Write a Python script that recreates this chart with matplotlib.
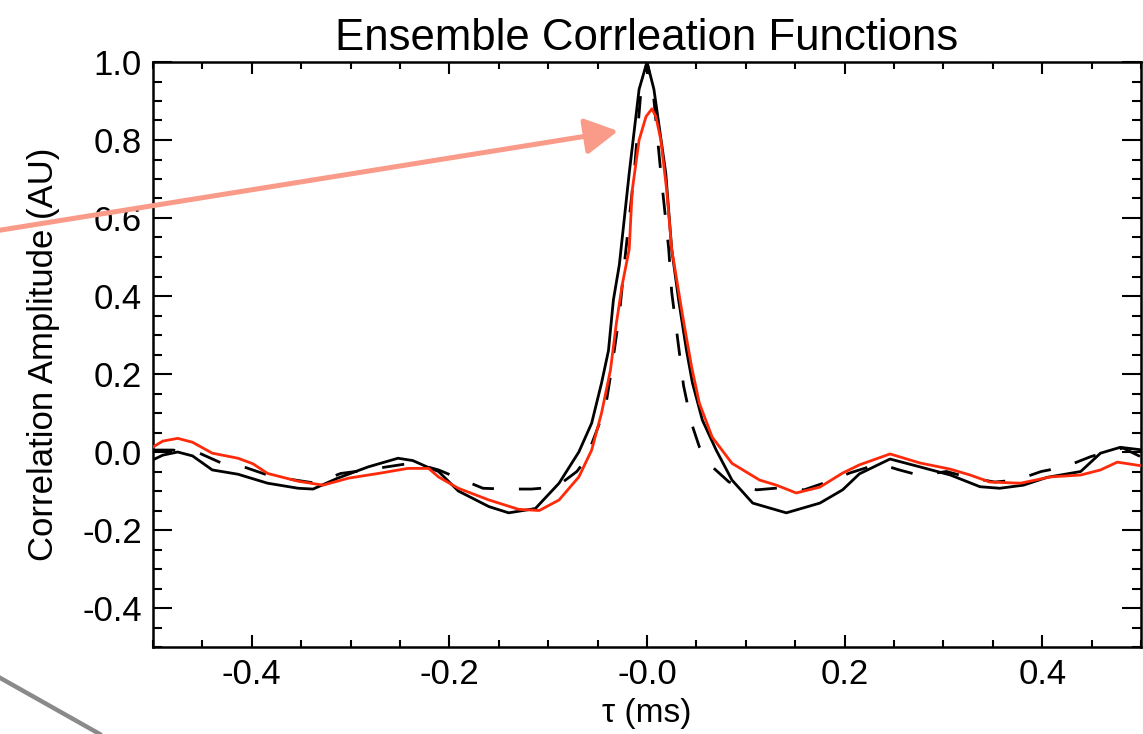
import numpy as np
import matplotlib
matplotlib.use("Agg")
import matplotlib.pyplot as plt
from matplotlib.ticker import MultipleLocator

plt.rcParams["font.family"] = ["Liberation Sans", "DejaVu Sans"]

# ----------------------------------------------------------------------
# curves (tau in ms, amplitude in AU)
# ----------------------------------------------------------------------
tau_solid = [-0.500, -0.490, -0.475, -0.460, -0.440, -0.414, -0.384, -0.353, -0.338,
             -0.313, -0.282, -0.252, -0.237, -0.221, -0.211, -0.191, -0.160, -0.140,
             -0.113, -0.089, -0.069, -0.056, -0.046, -0.039, -0.034, -0.028, -0.018,
             -0.008, 0.000, 0.007, 0.019, 0.025, 0.032, 0.040, 0.046, 0.056, 0.070,
             0.086, 0.107, 0.141, 0.175, 0.198, 0.215, 0.246, 0.276, 0.307, 0.337,
             0.357, 0.381, 0.405, 0.439, 0.459, 0.479, 0.502]
amp_solid = [-0.020, -0.008, 0.000, -0.010, -0.046, -0.057, -0.080, -0.093, -0.095,
             -0.067, -0.038, -0.016, -0.022, -0.040, -0.050, -0.100, -0.140, -0.156,
             -0.145, -0.080, 0.000, 0.074, 0.177, 0.260, 0.390, 0.480, 0.715,
             0.930, 1.000, 0.930, 0.715, 0.520, 0.390, 0.260, 0.177, 0.082, 0.005,
             -0.072, -0.131, -0.156, -0.131, -0.097, -0.056, -0.018, -0.038, -0.059, -0.089,
             -0.093, -0.085, -0.065, -0.050, -0.003, 0.012, 0.005]

tau_dash = [-0.500, -0.480, -0.453, -0.431, -0.406, -0.383, -0.356, -0.335, -0.310,
            -0.286, -0.263, -0.237, -0.211, -0.191, -0.166, -0.143, -0.117, -0.092,
            -0.071, -0.062, -0.042, -0.036, -0.028, -0.023, -0.013, -0.006, 0.000,
            0.006, 0.014, 0.022, 0.025, 0.031, 0.037, 0.045, 0.053, 0.066, 0.083,
            0.111, 0.134, 0.159, 0.182, 0.205, 0.215, 0.235, 0.254, 0.276, 0.303,
            0.325, 0.352, 0.374, 0.399, 0.423, 0.449, 0.472, 0.482, 0.502]
amp_dash = [0.005, 0.005, -0.003, -0.028, -0.040, -0.060, -0.072, -0.080, -0.055,
            -0.047, -0.038, -0.028, -0.046, -0.067, -0.093, -0.095, -0.095, -0.090,
            -0.050, -0.020, 0.115, 0.210, 0.350, 0.480, 0.715, 0.930, 1.000,
            0.930, 0.715, 0.520, 0.410, 0.290, 0.170, 0.074, 0.013, -0.038, -0.077,
            -0.097, -0.092, -0.097, -0.077, -0.054, -0.046, -0.030, -0.045, -0.060, -0.050,
            -0.065, -0.077, -0.072, -0.050, -0.038, -0.012, 0.005, 0.010, -0.015]

tau_red = [-0.500, -0.490, -0.475, -0.460, -0.440, -0.414, -0.399, -0.384, -0.353,
           -0.328, -0.302, -0.272, -0.242, -0.221, -0.211, -0.191, -0.160, -0.130,
           -0.109, -0.089, -0.069, -0.056, -0.046, -0.037, -0.031, -0.025, -0.018,
           -0.015, -0.008, -0.001, 0.005, 0.009, 0.014, 0.020, 0.025, 0.036, 0.045,
           0.053, 0.066, 0.086, 0.114, 0.131, 0.151, 0.175, 0.198, 0.215, 0.246,
           0.276, 0.307, 0.327, 0.347, 0.378, 0.408, 0.439, 0.459, 0.476, 0.502]
amp_red = [0.013, 0.028, 0.035, 0.025, -0.003, -0.016, -0.030, -0.055, -0.075,
           -0.085, -0.067, -0.055, -0.042, -0.042, -0.064, -0.093, -0.123, -0.147,
           -0.150, -0.123, -0.064, 0.005, 0.100, 0.210, 0.330, 0.430, 0.520,
           0.670, 0.800, 0.860, 0.880, 0.860, 0.800, 0.670, 0.520, 0.350, 0.220,
           0.125, 0.038, -0.029, -0.072, -0.085, -0.105, -0.090, -0.054, -0.033, -0.005,
           -0.028, -0.044, -0.059, -0.077, -0.080, -0.064, -0.059, -0.046, -0.026, -0.036]

x_ticks = [-0.4, -0.2, 0.0, 0.2, 0.4]
x_labels = ["-0.4", "-0.2", "-0.0", "0.2", "0.4"]
y_ticks = [1.0, 0.8, 0.6, 0.4, 0.2, 0.0, -0.2, -0.4]
y_labels = ["1.0", "0.8", "0.6", "0.4", "0.2", "0.0", "-0.2", "-0.4"]

# ----------------------------------------------------------------------
W, H = 1143, 734
fig = plt.figure(figsize=(W / 100, H / 100), dpi=100)
ax = fig.add_axes([153 / W, 1 - 647 / H, (1141 - 153) / W, (647 - 62) / H])

ax.plot(tau_solid, amp_solid, color="black", lw=2.0, zorder=3)
ax.plot(tau_dash, amp_dash, color="black", lw=2.0, dashes=(8, 9), zorder=3)
ax.plot(tau_red, amp_red, color="#FF2A0A", lw=2.0, zorder=4)

ax.set_xlim(-0.5, 0.5)
ax.set_ylim(-0.5, 1.0)
ax.set_xticks(x_ticks)
ax.set_xticklabels(x_labels)
ax.set_yticks(y_ticks)
ax.set_yticklabels(y_labels)
ax.xaxis.set_minor_locator(MultipleLocator(0.05))
ax.yaxis.set_minor_locator(MultipleLocator(0.05))

ax.tick_params(axis="both", which="both", direction="in", top=True, right=True,
               width=1.5, labelsize=25, pad=8)
ax.tick_params(axis="x", which="major", length=8.5)
ax.tick_params(axis="x", which="minor", length=5)
ax.tick_params(axis="y", which="major", length=13.5)
ax.tick_params(axis="y", which="minor", length=6.5)
for s in ax.spines.values():
    s.set_linewidth(1.8)

ax.set_title("Ensemble Corrleation Functions", fontsize=31.5, pad=9)
ax.set_ylabel("Correlation Amplitude (AU)", fontsize=25, labelpad=16)
ax.set_xlabel("τ (ms)", fontsize=24, labelpad=5)

# annotation strokes that sit outside the plot, in figure pixels
over = fig.add_axes([0, 0, 1, 1], zorder=10)
over.set_xlim(0, W)
over.set_ylim(H, 0)
over.axis("off")
over.patch.set_alpha(0)
over.annotate("", xy=(618, 131), xytext=(-5, 231),
              arrowprops=dict(arrowstyle="-|>,head_length=1.0,head_width=0.55",
                              mutation_scale=20, lw=3.6, color="#FA9A88",
                              shrinkA=0, shrinkB=0))
over.plot([-5, 105], [675, 737], color="#8A8A8A", lw=3.2, solid_capstyle="butt")

fig.savefig("out.png", dpi=100)
